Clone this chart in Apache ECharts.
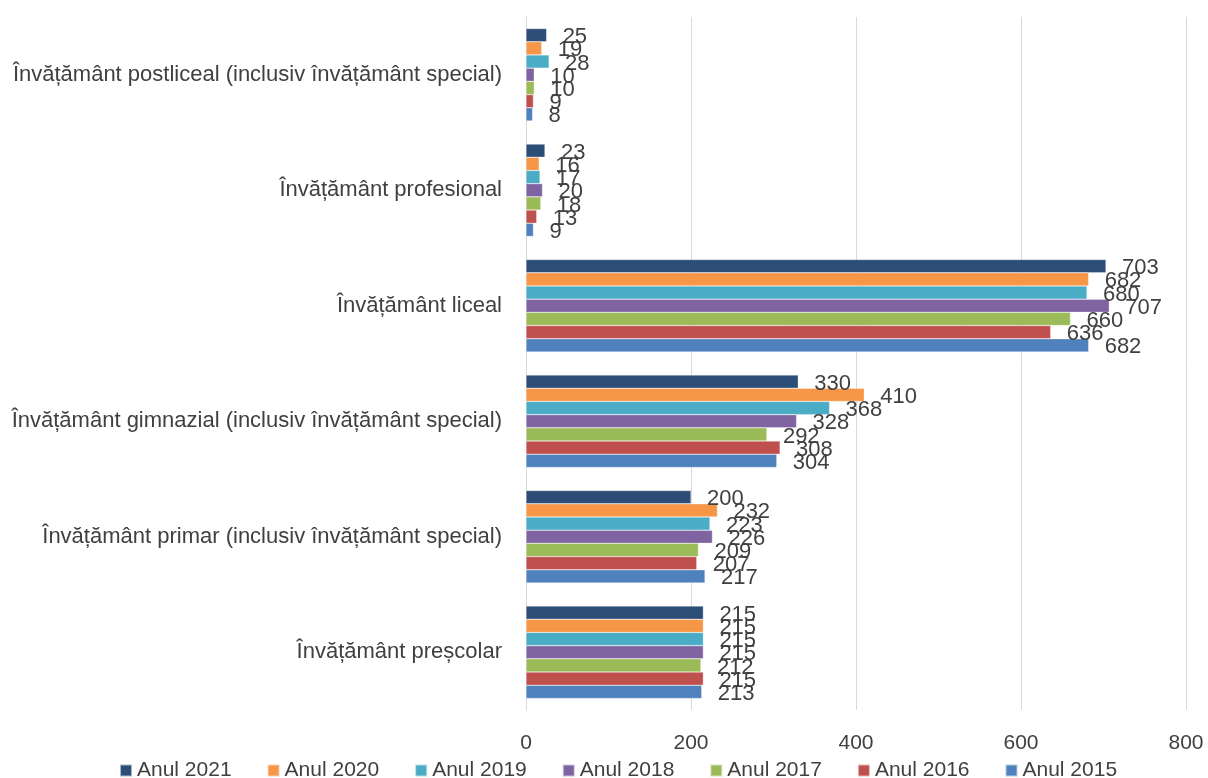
<!DOCTYPE html>
<html>
<head>
<meta charset="utf-8">
<script src="https://cdn.jsdelivr.net/npm/echarts@6/dist/echarts.min.js"></script>
<style>
html,body{margin:0;padding:0;background:#fff;}
#chart{width:1208px;height:778px;}
</style>
</head>
<body>
<div id="chart"></div>
<script>
// Education levels, listed from the bottom of the axis upwards
const categories = [
  'Învățământ preșcolar',
  'Învățământ primar (inclusiv învățământ special)',
  'Învățământ gimnazial (inclusiv învățământ special)',
  'Învățământ liceal',
  'Învățământ profesional',
  'Învățământ postliceal (inclusiv învățământ special)'
];

// Values per year, same order as categories
const an2021 = [215, 200, 330, 703, 23, 25];
const an2020 = [215, 232, 410, 682, 16, 19];
const an2019 = [215, 223, 368, 680, 17, 28];
const an2018 = [215, 226, 328, 707, 20, 10];
const an2017 = [212, 209, 292, 660, 18, 10];
const an2016 = [215, 207, 308, 636, 13, 9];
const an2015 = [213, 217, 304, 682, 9, 8];

const xTicks = [0, 200, 400, 600, 800];

// First series sits at the top of each group
const years = [
  { name: 'Anul 2021', data: an2021, color: '#2c4d75' },
  { name: 'Anul 2020', data: an2020, color: '#f79646' },
  { name: 'Anul 2019', data: an2019, color: '#4bacc6' },
  { name: 'Anul 2018', data: an2018, color: '#8064a2' },
  { name: 'Anul 2017', data: an2017, color: '#9bbb59' },
  { name: 'Anul 2016', data: an2016, color: '#c0504d' },
  { name: 'Anul 2015', data: an2015, color: '#4f81bd' }
];

const FONT = 'Liberation Sans';
const TEXT = '#404040';

const chart = echarts.init(document.getElementById('chart'));
chart.setOption({
  animation: false,
  textStyle: { fontFamily: FONT },
  grid: { left: 526, right: 22, top: 17, bottom: 68 },
  legend: {
    top: 760,
    left: 119,
    itemWidth: 12,
    itemHeight: 12,
    itemGap: 35,
    icon: 'rect',
    padding: 0,
    textStyle: { fontSize: 21, color: TEXT, fontFamily: FONT },
    data: years.map(y => y.name)
  },
  xAxis: {
    type: 'value',
    min: xTicks[0],
    max: xTicks[xTicks.length - 1],
    interval: 200,
    axisLine: { show: false },
    axisTick: { show: false },
    splitLine: { lineStyle: { color: '#d9d9d9', width: 1 } },
    axisLabel: { fontSize: 21, color: TEXT, margin: 23 }
  },
  yAxis: {
    type: 'category',
    data: categories,
    axisLine: { show: true, lineStyle: { color: '#d9d9d9', width: 1 } },
    axisTick: { show: false },
    axisLabel: { fontSize: 22, color: TEXT, margin: 24 }
  },
  series: years.map(y => ({
    name: y.name,
    type: 'bar',
    data: y.data,
    barGap: '0%',
    barCategoryGap: '20%',
    itemStyle: { color: y.color, borderColor: 'rgba(255,255,255,0.6)', borderWidth: 0.5 },
    label: {
      show: true,
      position: 'right',
      distance: 16,
      offset: [0, 2],
      fontSize: 22,
      color: TEXT,
      fontFamily: FONT
    }
  }))
});
</script>
</body>
</html>
